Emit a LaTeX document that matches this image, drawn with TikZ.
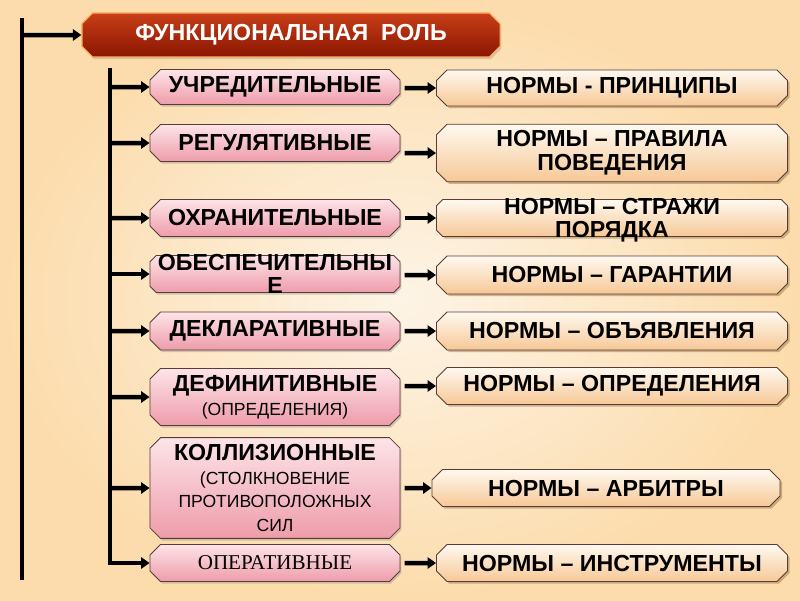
\documentclass[tikz,border=0pt]{standalone}
\usepackage{fontspec}
\setmainfont{Liberation Sans}
\newfontfamily\timesfont{Liberation Serif}
\usetikzlibrary{arrows.meta,positioning,shapes.misc,shadows}

\definecolor{bgin}{RGB}{253,244,230}
\definecolor{bgout}{RGB}{252,220,172}
\definecolor{pinktop}{RGB}{253,228,232}
\definecolor{pinkbot}{RGB}{238,156,170}
\definecolor{peachtop}{RGB}{255,249,240}
\definecolor{peachbot}{RGB}{246,200,150}
\definecolor{redtop}{RGB}{200,62,24}
\definecolor{redbot}{RGB}{138,22,0}
\definecolor{rim}{RGB}{90,60,55}

\newcommand{\aside}{\fontsize{12.5}{14}\selectfont\mdseries}
\newcommand{\spill}[1]{\raisebox{-0.4em}[0pt][0pt]{\begin{tabular}{@{}c@{}}#1\end{tabular}}}

\begin{document}
\begin{tikzpicture}[x=0.025cm, y=-0.025cm, >=Latex,
    lbl/.style={font=\fontsize{16.5}{17}\selectfont\bfseries},
    box/.style={chamfered rectangle, chamfered rectangle xsep=4pt,
      draw=rim, line width=0.6pt, align=center, inner xsep=2pt,
      inner ysep=1pt},
    kind/.style={box, lbl, minimum width=6.25cm, top color=pinktop,
      bottom color=pinkbot, drop shadow={shadow xshift=1pt,
      shadow yshift=-1.5pt, opacity=0.35}},
    norm/.style={box, lbl, minimum width=8.775cm, top color=peachtop,
      bottom color=peachbot, drop shadow={shadow xshift=1.5pt,
      shadow yshift=-1.5pt, opacity=0.4, fill=brown!70!black}},
    head/.style={box, draw=orange!60!white, line width=0.8pt,
      minimum width=10.45cm, minimum height=1.1cm, top color=redtop,
      bottom color=redbot, text=white,
      font=\fontsize{16.5}{18}\selectfont\bfseries,
      drop shadow={shadow xshift=1pt, shadow yshift=-1.5pt, opacity=0.3}},
    arrow/.style={-{Triangle[length=6pt,width=8pt]}, line width=3.2pt},
    spine/.style={line width=3.4pt} ]

    \useasboundingbox (0,0) rectangle (800,600);
    \shade[inner color=bgin, outer color=bgout] (0,0) rectangle (800,600);

    \coordinate (outer top) at (22,18);
    \coordinate (outer bottom) at (22,580);
    \coordinate (inner top) at (110,68);

    \node[head] (role) at (291,35) {ФУНКЦИОНАЛЬНАЯ\ \ РОЛЬ};

    \node[kind, minimum height=0.875cm] (k1) at (275,87) {УЧРЕДИТЕЛЬНЫЕ};
    \node[kind, minimum height=0.925cm] (k2) at (275,143) {РЕГУЛЯТИВНЫЕ};
    \node[kind, minimum height=0.925cm] (k3) at (275,218) {ОХРАНИТЕЛЬНЫЕ};
    \node[kind, minimum height=0.925cm] (k4) at (275,274)
      {\spill{ОБЕСПЕЧИТЕЛЬНЫ\\Е}};
    \node[kind, minimum height=0.95cm] (k5) at (275,331) {ДЕКЛАРАТИВНЫЕ};
    \node[kind, minimum height=1.425cm] (k6) at (275,397)
      {ДЕФИНИТИВНЫЕ\\\aside (ОПРЕДЕЛЕНИЯ)};
    \node[kind, minimum height=2.175cm] (k7) at (275,488)
      {КОЛЛИЗИОННЫЕ\\\aside (СТОЛКНОВЕНИЕ\\\aside ПРОТИВОПОЛОЖНЫХ\\\aside СИЛ};
    \node[kind, minimum height=0.925cm,
      font=\fontsize{15}{16}\selectfont\timesfont] (k8) at (275,563)
      {ОПЕРАТИВНЫЕ};

    \node[norm, minimum height=0.9cm] (n1) at (612,88) {НОРМЫ - ПРИНЦИПЫ};
    \node[norm, minimum height=1.425cm] (n2) at (612,153)
      {НОРМЫ – ПРАВИЛА\\ПОВЕДЕНИЯ};
    \node[norm, minimum height=0.925cm] (n3) at (612,218)
      {\spill{НОРМЫ – СТРАЖИ\\ПОРЯДКА}};
    \node[norm, minimum height=0.95cm] (n4) at (612,275) {НОРМЫ – ГАРАНТИИ};
    \node[norm, minimum height=0.95cm] (n5) at (612,331)
      {НОРМЫ – ОБЪЯВЛЕНИЯ};
    \node[norm, minimum height=0.925cm] (n6) at (612,386)
      {НОРМЫ – ОПРЕДЕЛЕНИЯ};
    \node[norm, minimum height=0.925cm, minimum width=8.7cm] (n7) at (606,488)
      {НОРМЫ – АРБИТРЫ};
    \node[norm, minimum height=0.925cm] (n8) at (612,563)
      {НОРМЫ – ИНСТРУМЕНТЫ};

    \draw[spine] (outer top) -- (outer bottom);
    \draw[arrow] (outer top |- role) -- (role);

    \draw[arrow, line join=miter] (inner top) |- (k8);
    \draw[arrow] (inner top |- k1) -- (k1);
    \draw[arrow] (inner top |- k2) -- (k2);
    \draw[arrow] (inner top |- k3) -- (k3);
    \draw[arrow] (inner top |- k4) -- (k4);
    \draw[arrow] (inner top |- k5) -- (k5);
    \draw[arrow] (inner top |- k6) -- (k6);
    \draw[arrow] (inner top |- k7) -- (k7);

    \draw[arrow] ([xshift=3pt]k1.east |- n1) -- (n1);
    \draw[arrow] ([xshift=3pt]k2.east |- n2) -- (n2);
    \draw[arrow] ([xshift=3pt]k3.east |- n3) -- (n3);
    \draw[arrow] ([xshift=3pt]k4.east |- n4) -- (n4);
    \draw[arrow] ([xshift=3pt]k5.east |- n5) -- (n5);
    \draw[arrow] ([xshift=3pt]k6.east |- n6) -- (n6);
    \draw[arrow] ([xshift=3pt]k7.east |- n7) -- (n7);
    \draw[arrow] ([xshift=3pt]k8.east |- n8) -- (n8);

  \end{tikzpicture}
\end{document}
